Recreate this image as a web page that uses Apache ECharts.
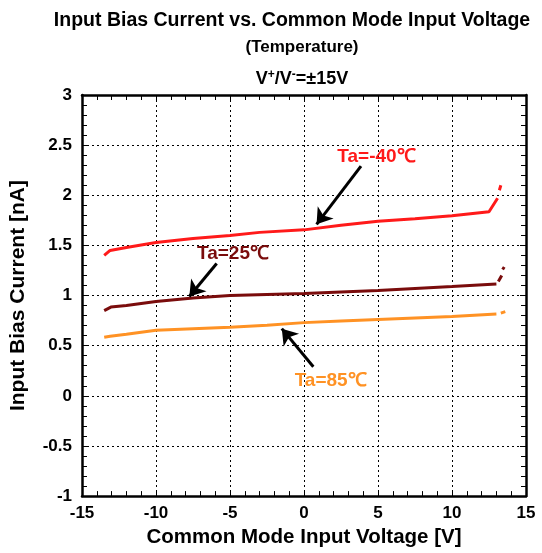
<!DOCTYPE html>
<html>
<head>
<meta charset="utf-8">
<script src="https://cdn.jsdelivr.net/npm/echarts@6/dist/echarts.min.js"></script>
<style>
html,body{margin:0;padding:0;background:#fff;}
#c{width:542px;height:553px;}
</style>
</head>
<body>
<div id="c"></div>
<script>
// ---- data ----
const xTicks = [-15, -10, -5, 0, 5, 10, 15];
const yTicks = [-1, -0.5, 0, 0.5, 1, 1.5, 2, 2.5, 3];

const redV = [-13.5, -13.1, -12, -10, -7.5, -5, -3, 0, 2.5, 5, 7.5, 10, 12.5, 13.08, 13.14, 13.2, 13.3];
const redI = [1.40, 1.45, 1.48, 1.53, 1.57, 1.60, 1.63, 1.655, 1.70, 1.74, 1.765, 1.795, 1.835, 1.97, null, 2.05, 2.10];

const darkV = [-13.5, -13.05, -12, -10, -7.5, -5, -2.5, 0, 2.5, 5, 7.5, 10, 13.0, 13.07, 13.13, 13.36, 13.38, 13.42, 13.53];
const darkI = [0.85, 0.885, 0.90, 0.94, 0.975, 1.0, 1.01, 1.02, 1.035, 1.05, 1.07, 1.09, 1.115, null, 1.14, 1.2, null, 1.26, 1.285];

const orangeV = [-13.5, -13.1, -12, -10, -7.5, -5, -2.5, 0, 2.5, 5, 7.5, 10, 13.0, 13.1, 13.3, 13.6];
const orangeI = [0.585, 0.595, 0.615, 0.655, 0.67, 0.685, 0.705, 0.73, 0.745, 0.76, 0.775, 0.79, 0.815, null, 0.825, 0.84];

const seriesNames = ['Ta=-40℃', 'Ta=25℃', 'Ta=85℃'];
const seriesColors = ['#ff1a1a', '#7a0c0c', '#ff9224'];
const labelColors = ['#ff1a1a', '#7a0c0c', '#ff9224'];
// annotation: label position, arrow tail, arrow head (data units)
const labelPos = [[4.9, 2.38], [-4.8, 1.42], [1.8, 0.15]];
const arrowTail = [[3.85, 2.29], [-5.9, 1.32], [0.63, 0.29]];
const arrowHead = [[0.85, 1.71], [-7.75, 0.99], [-1.5, 0.67]];

function pairs(xs, ys) { return xs.map((x, i) => [x, ys[i] === null ? null : ys[i]]); }
const dataSets = [pairs(redV, redI), pairs(darkV, darkI), pairs(orangeV, orangeI)];

const FONT = '"Liberation Sans", Arial, sans-serif';
const gridDotted = { show: true, lineStyle: { color: '#000', width: 1, type: [2, 3] } };

function mkX(pos, showLabels) {
  return {
    type: 'value', position: pos, min: -15, max: 15, interval: 5,
    axisLine: { show: true, onZero: false, lineStyle: { color: '#000', width: 2.5 } },
    axisTick: { show: true, inside: true, length: 6, lineStyle: { color: '#000', width: 1 } },
    minorTick: { show: true, splitNumber: 5, length: 5, lineStyle: { color: '#000', width: 1 } },
    axisLabel: { show: showLabels, color: '#000', fontFamily: FONT, fontWeight: 'bold', fontSize: 17, margin: 9 },
    splitLine: pos === 'bottom' ? gridDotted : { show: false },
    name: showLabels ? 'Common Mode Input Voltage [V]' : '',
    nameLocation: 'middle', nameGap: 30,
    nameTextStyle: { color: '#000', fontFamily: FONT, fontWeight: 'bold', fontSize: 20.5 }
  };
}
function mkY(pos, showLabels) {
  return {
    type: 'value', position: pos, min: -1, max: 3, interval: 0.5,
    axisLine: { show: true, onZero: false, lineStyle: { color: '#000', width: 2.5 } },
    axisTick: { show: true, inside: true, length: 6, lineStyle: { color: '#000', width: 1 } },
    minorTick: { show: true, splitNumber: 5, length: 5, lineStyle: { color: '#000', width: 1 } },
    axisLabel: { show: showLabels, color: '#000', fontFamily: FONT, fontWeight: 'bold', fontSize: 17, margin: 10,
      formatter: v => String(v) },
    splitLine: pos === 'left' ? gridDotted : { show: false },
    name: showLabels ? 'Input Bias Current [nA]' : '',
    nameLocation: 'middle', nameGap: 53,
    nameTextStyle: { color: '#000', fontFamily: FONT, fontWeight: 'bold', fontSize: 21 }
  };
}

const series = dataSets.map((d, k) => ({
  name: seriesNames[k],
  type: 'line',
  xAxisIndex: 0, yAxisIndex: 0,
  data: d,
  showSymbol: false, symbol: 'none',
  connectNulls: false,
  lineStyle: { color: seriesColors[k], width: 3 },
  z: 3,
  markLine: {
    silent: true, symbol: ['none', 'arrow'], symbolSize: 15,
    label: { show: false },
    lineStyle: { color: '#000', width: 3, type: 'solid' },
    emphasis: { disabled: true },
    data: [[{ coord: arrowTail[k] }, { coord: arrowHead[k] }]]
  },
  markPoint: {
    silent: true, symbol: 'circle', symbolSize: 1,
    itemStyle: { color: 'rgba(0,0,0,0)' },
    label: { show: true, position: 'inside', formatter: seriesNames[k], color: labelColors[k],
      fontFamily: FONT, fontWeight: 'bold', fontSize: 19 },
    data: [{ coord: labelPos[k] }]
  }
}));

const chart = echarts.init(document.getElementById('c'), null, { renderer: 'canvas' });
chart.setOption({
  animation: false,
  backgroundColor: '#fff',
  title: [
    { text: 'Input Bias Current vs. Common Mode Input Voltage', left: 287, top: 6, textAlign: 'center',
      textStyle: { color: '#000', fontFamily: FONT, fontWeight: 'bold', fontSize: 19.5 } },
    { text: '(Temperature)', left: 297, top: 34, textAlign: 'center',
      textStyle: { color: '#000', fontFamily: FONT, fontWeight: 'bold', fontSize: 17 } },
    { text: '{a|V}{s|+}{a|/V}{s|-}{a|=±15V}', left: 297, top: 64, textAlign: 'center',
      textStyle: { color: '#000', fontFamily: FONT, fontWeight: 'bold', fontSize: 18,
        rich: {
          a: { color: '#000', fontFamily: FONT, fontWeight: 'bold', fontSize: 18 },
          s: { color: '#000', fontFamily: FONT, fontWeight: 'bold', fontSize: 12, verticalAlign: 'top', padding: [0, 0, 9, 0] }
        } } }
  ],
  grid: { left: 82, right: 16, top: 95, bottom: 56, containLabel: false },
  xAxis: [mkX('bottom', true), mkX('top', false)],
  yAxis: [mkY('left', true), mkY('right', false)],
  series: series
});
</script>
</body>
</html>
